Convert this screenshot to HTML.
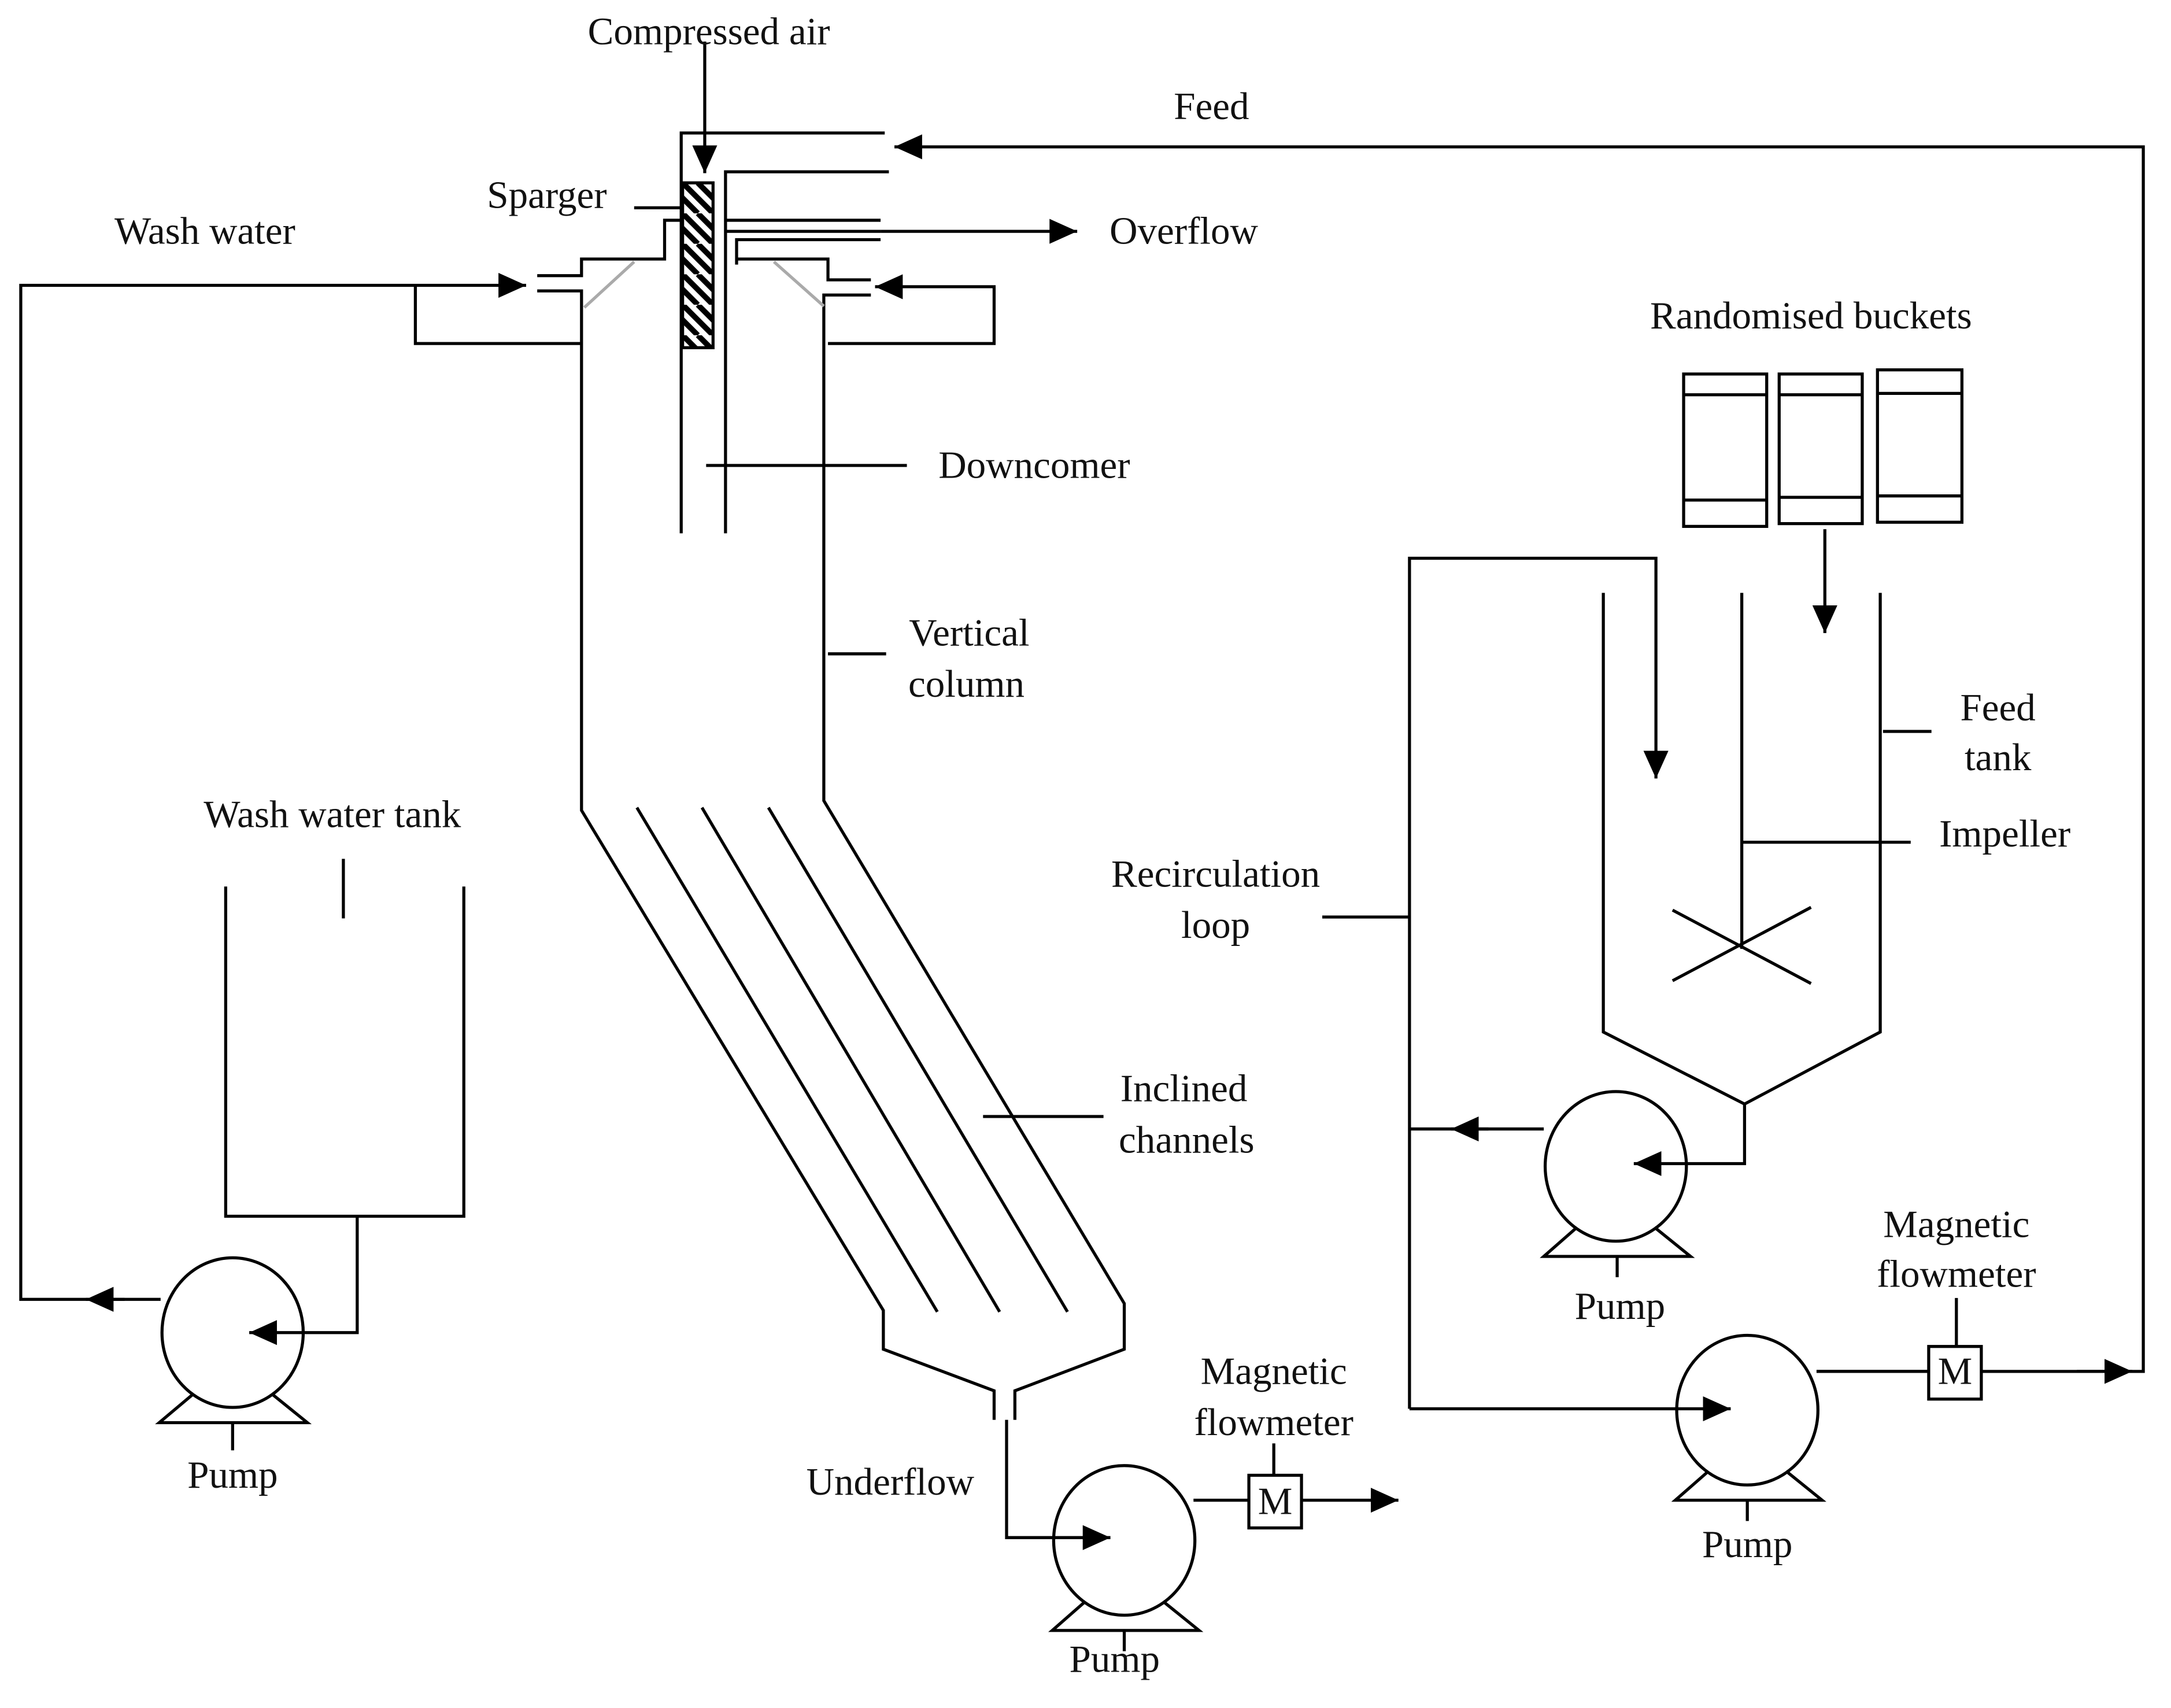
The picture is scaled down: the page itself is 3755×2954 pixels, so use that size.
<!DOCTYPE html>
<html><head><meta charset="utf-8"><style>
html,body{margin:0;padding:0;background:#fff;}
svg{display:block;}
text{font-family:"Liberation Serif",serif;font-size:28px;fill:#111;text-anchor:middle;}
</style></head><body>
<svg width="3755" height="2954" viewBox="0 0 1568 1233" preserveAspectRatio="none" xmlns="http://www.w3.org/2000/svg">
<defs>
<marker id="a" markerUnits="userSpaceOnUse" markerWidth="20" markerHeight="18" refX="20" refY="9" orient="auto">
<path d="M0,0 L20,9 L0,18 z" fill="#000"/></marker>
<pattern id="h" patternUnits="userSpaceOnUse" width="22" height="22" patternTransform="translate(493,132)">
<rect width="22" height="22" fill="#fff"/><path d="M0,0 L22,22 M-11,0 L11,22 M11,0 L33,22" stroke="#000" stroke-width="4"/></pattern>
</defs>
<g fill="none" stroke="#000" stroke-width="2.2">
<line x1="509" y1="30" x2="509" y2="125" marker-end="url(#a)"/>
<polyline points="639,96 492,96 492,385"/>
<polyline points="642,124 524,124 524,385"/>
<rect x="493" y="132" width="22" height="119" fill="url(#h)"/>
<line x1="458" y1="150" x2="492" y2="150"/>
<polyline points="492,159 480,159 480,187 420,187 420,199 388,199"/>
<polyline points="388,210 420,210 420,585 638,946 638,974 718,1004 718,1025"/>
<line x1="524" y1="159" x2="636" y2="159"/>
<line x1="524" y1="167" x2="636" y2="167"/>
<line x1="636" y1="167" x2="778" y2="167" marker-end="url(#a)"/>
<polyline points="636,173 532,173 532,191"/>
<polyline points="532,187 598,187 598,202 629,202"/>
<polyline points="629,213 595,213 595,578 812,941 812,974 733,1004 733,1025"/>
<line x1="458" y1="189" x2="422" y2="222" stroke="#aaa"/>
<line x1="559" y1="189" x2="595" y2="221" stroke="#aaa"/>
<polyline points="598,248 718,248 718,207 632,207" marker-end="url(#a)"/>
<polyline points="1312,990 1548,990 1548,106 646,106" marker-end="url(#a)"/>
<polyline points="116,938 15,938 15,206 380,206" marker-end="url(#a)"/>
<line x1="90" y1="938" x2="62" y2="938" marker-end="url(#a)"/>
<polyline points="300,206 300,248 420,248"/>
<line x1="460" y1="583" x2="677" y2="947"/>
<line x1="507" y1="583" x2="722" y2="947"/>
<line x1="555" y1="583" x2="771" y2="947"/>
<line x1="510" y1="336" x2="655" y2="336"/>
<line x1="598" y1="472" x2="640" y2="472"/>
<line x1="710" y1="806" x2="797" y2="806"/>
<polyline points="163,640 163,878 335,878 335,640"/>
<line x1="248" y1="620" x2="248" y2="663"/>
<polyline points="258,878 258,962 180,962" marker-end="url(#a)"/>
<ellipse cx="168" cy="962" rx="51" ry="54"/>
<polyline points="140,1006 115,1027 222,1027 196,1006"/><line x1="168" y1="1027" x2="168" y2="1047"/>
<ellipse cx="812" cy="1112" rx="51" ry="54"/>
<polyline points="784,1156 760,1177 866,1177 840,1156"/><line x1="812" y1="1177" x2="812" y2="1192"/>
<ellipse cx="1167" cy="842" rx="51" ry="54"/>
<polyline points="1139,886 1115,907 1221,907 1195,886"/><line x1="1168" y1="907" x2="1168" y2="922"/>
<ellipse cx="1262" cy="1018" rx="51" ry="54"/>
<polyline points="1234,1062 1210,1083 1316,1083 1290,1062"/><line x1="1262" y1="1083" x2="1262" y2="1098"/>
<polyline points="727,1025 727,1110 802,1110" marker-end="url(#a)"/>
<line x1="862" y1="1083" x2="902" y2="1083"/>
<rect x="902" y="1065" width="38" height="38"/>
<line x1="940" y1="1083" x2="1010" y2="1083" marker-end="url(#a)"/>
<line x1="920" y1="1042" x2="920" y2="1065"/>
<line x1="1312" y1="990" x2="1393" y2="990"/>
<rect x="1393" y="972" width="38" height="38" fill="#fff"/>
<line x1="1413" y1="937" x2="1413" y2="972"/>
<line x1="1500" y1="990" x2="1540" y2="990" marker-end="url(#a)"/>
<polyline points="1018,1017 1018,403 1196,403 1196,562" marker-end="url(#a)"/>
<line x1="1018" y1="1017" x2="1250" y2="1017" marker-end="url(#a)"/>
<polyline points="1115,815 1018,815"/>
<line x1="1075" y1="815" x2="1048" y2="815" marker-end="url(#a)"/>
<line x1="955" y1="662" x2="1018" y2="662"/>
<polyline points="1158,428 1158,745 1260,797 1358,745 1358,428"/>
<polyline points="1260,797 1260,840 1180,840" marker-end="url(#a)"/>
<line x1="1258" y1="428" x2="1258" y2="685"/>
<line x1="1208" y1="657" x2="1308" y2="710"/>
<line x1="1208" y1="708" x2="1308" y2="655"/>
<line x1="1258" y1="608" x2="1380" y2="608"/>
<line x1="1360" y1="528" x2="1395" y2="528"/>
<line x1="1318" y1="382" x2="1318" y2="457" marker-end="url(#a)"/>
<rect x="1216" y="270" width="60" height="110"/><line x1="1216" y1="285" x2="1276" y2="285"/><line x1="1216" y1="361" x2="1276" y2="361"/>
<rect x="1285" y="270" width="60" height="108"/><line x1="1285" y1="285" x2="1345" y2="285"/><line x1="1285" y1="359" x2="1345" y2="359"/>
<rect x="1356" y="267" width="61" height="110"/><line x1="1356" y1="284" x2="1417" y2="284"/><line x1="1356" y1="358" x2="1417" y2="358"/>
</g>
<g>
<text x="512" y="32">Compressed air</text>
<text x="875" y="86">Feed</text>
<text x="395" y="150">Sparger</text>
<text x="148" y="176">Wash water</text>
<text x="855" y="176">Overflow</text>
<text x="1308" y="237">Randomised buckets</text>
<text x="747" y="345">Downcomer</text>
<text x="700" y="466">Vertical</text>
<text x="698" y="503">column</text>
<text x="1443" y="520">Feed</text>
<text x="1443" y="556">tank</text>
<text x="240" y="597">Wash water tank</text>
<text x="1448" y="611">Impeller</text>
<text x="878" y="640">Recirculation</text>
<text x="878" y="677">loop</text>
<text x="855" y="795">Inclined</text>
<text x="857" y="832">channels</text>
<text x="1413" y="893">Magnetic</text>
<text x="1413" y="929">flowmeter</text>
<text x="1170" y="952">Pump</text>
<text x="1412" y="999">M</text>
<text x="920" y="999">Magnetic</text>
<text x="920" y="1036">flowmeter</text>
<text x="168" y="1074">Pump</text>
<text x="643" y="1079">Underflow</text>
<text x="921" y="1093">M</text>
<text x="1262" y="1124">Pump</text>
<text x="805" y="1207">Pump</text>
</g>
</svg>
</body></html>
